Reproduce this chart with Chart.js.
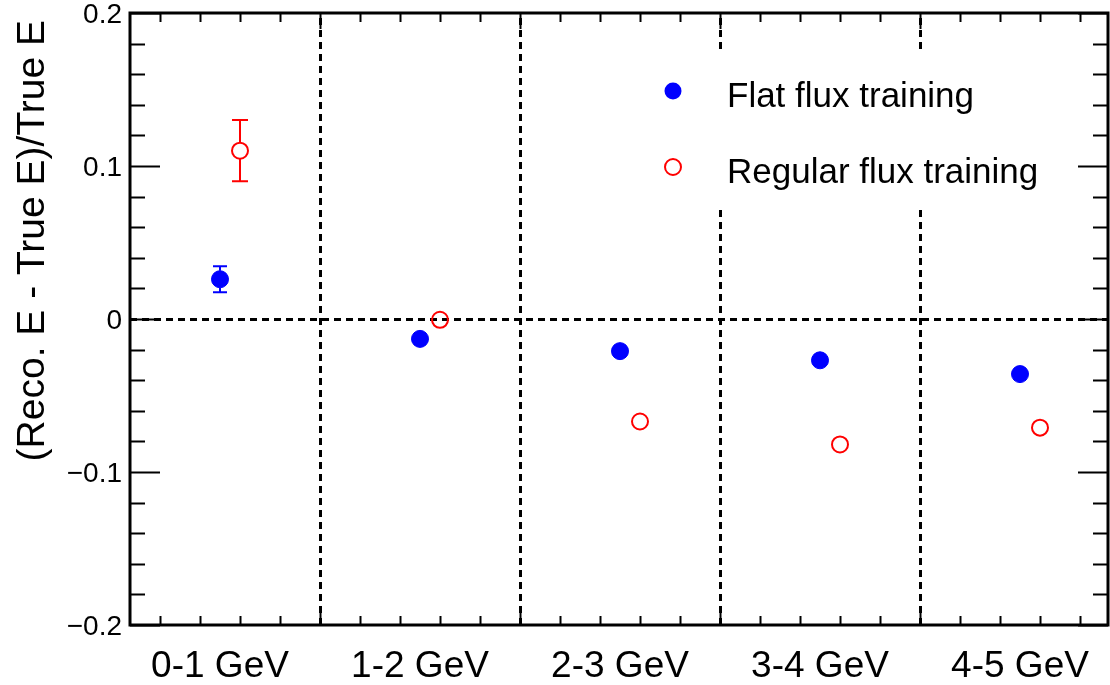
<!DOCTYPE html>
<html>
<head>
<meta charset="utf-8">
<script src="https://cdn.jsdelivr.net/npm/chart.js@4.4.1/dist/chart.umd.min.js"></script>
<style>
  html, body { margin: 0; padding: 0; background: #fff; }
  canvas { display: block; }
</style>
</head>
<body>
<canvas id="bias-chart" width="1110" height="685"></canvas>
<script>
// energy bins and their labels
const categories = ['0-1 GeV', '1-2 GeV', '2-3 GeV', '3-4 GeV', '4-5 GeV'];
const binCenters = [0.5, 1.5, 2.5, 3.5, 4.5];
const binEdges = [1, 2, 3, 4];

// (Reco. E - True E)/True E, per bin
const flatValues = [0.026, -0.013, -0.021, -0.027, -0.036];
const flatErrors = [0.0085, 0.002, 0.002, 0.002, 0.002];
const regularValues = [0.110, -0.0005, -0.067, -0.082, -0.071];
const regularErrors = [0.020, 0.003, 0.003, 0.003, 0.003];
const regularShift = 0.1;

const yTickValues = [-0.2, -0.1, 0, 0.1, 0.2];
const yTickLabels = ['\u22120.2', '\u22120.1', '0', '0.1', '0.2'];

const legendLabels = ['Flat flux training', 'Regular flux training'];
const yTitle = '(Reco. E - True E)/True E';

const FONT = '"Liberation Sans", Arial, Helvetica, sans-serif';
const BLUE = '#0000ff';
const RED = '#ff0000';

const flatPoints = binCenters.map((x, i) => ({ x: x, y: flatValues[i], err: flatErrors[i] }));
const regularPoints = binCenters.map((x, i) => ({ x: x + regularShift, y: regularValues[i], err: regularErrors[i] }));

// ROOT-like frame, dashed guide lines, error bars, legend
const rootStyle = {
    id: 'rootStyle',
    beforeDatasetsDraw(chart) {
        const { ctx, chartArea: a, scales: { x, y } } = chart;
        ctx.save();
        ctx.strokeStyle = '#000';
        ctx.lineWidth = 3;
        ctx.setLineDash([7, 5]);
        binEdges.forEach(e => {
            const px = Math.round(x.getPixelForValue(e)) + 0.5;
            ctx.beginPath();
            ctx.moveTo(px, a.bottom);
            ctx.lineTo(px, a.top);
            ctx.stroke();
        });
        const py0 = Math.round(y.getPixelForValue(0)) + 0.5;
        ctx.beginPath();
        ctx.moveTo(a.left, py0);
        ctx.lineTo(a.right, py0);
        ctx.stroke();
        ctx.restore();
    },
    afterDatasetsDraw(chart) {
        const { ctx, chartArea: a, scales: { x, y } } = chart;
        ctx.save();

        // error bars, drawn only outside the marker like ROOT does
        chart.data.datasets.forEach(ds => {
            ctx.strokeStyle = ds.borderColor;
            ctx.lineWidth = 2;
            const r = ds.pointRadius;
            const cap = ds.capWidth;
            ds.data.forEach(p => {
                const px = x.getPixelForValue(p.x);
                const py = y.getPixelForValue(p.y);
                const top = y.getPixelForValue(p.y + p.err);
                const bot = y.getPixelForValue(p.y - p.err);
                if (py - top <= r + 1) return;
                ctx.beginPath();
                ctx.moveTo(px, py - r); ctx.lineTo(px, top);
                ctx.moveTo(px, py + r); ctx.lineTo(px, bot);
                ctx.moveTo(px - cap, top); ctx.lineTo(px + cap, top);
                ctx.moveTo(px - cap, bot); ctx.lineTo(px + cap, bot);
                ctx.stroke();
            });
        });

        // legend (white box hides the dashed lines behind it)
        ctx.fillStyle = '#fff';
        ctx.fillRect(640, 52, 430, 158);
        chart.data.datasets.forEach((ds, i) => {
            const mx = 673, my = 91 + i * 76;
            ctx.beginPath();
            ctx.arc(mx, my, ds.pointRadius, 0, Math.PI * 2);
            if (ds.filled) {
                ctx.fillStyle = ds.backgroundColor;
                ctx.fill();
            } else {
                ctx.strokeStyle = ds.borderColor;
                ctx.lineWidth = 2;
                ctx.stroke();
            }
            ctx.fillStyle = '#000';
            ctx.font = '35px ' + FONT;
            ctx.textAlign = 'left';
            ctx.textBaseline = 'alphabetic';
            ctx.fillText(legendLabels[i], 727, my + 16);
        });

        // ticks
        ctx.strokeStyle = '#000';
        ctx.lineWidth = 2;
        ctx.setLineDash([]);
        ctx.beginPath();
        for (let k = -10; k <= 10; k++) {
            const v = k * 0.02;
            const py = Math.round(y.getPixelForValue(v)) + 0.5;
            const len = (k % 5 === 0) ? 30 : 15;
            ctx.moveTo(a.left, py); ctx.lineTo(a.left + len, py);
            ctx.moveTo(a.right, py); ctx.lineTo(a.right - len, py);
        }
        for (let k = 1; k * 0.2 < x.max; k++) {
            const v = k * 0.2;
            if (v < x.min) continue;
            const px = Math.round(x.getPixelForValue(v)) + 0.5;
            const len = (k % 5 === 0) ? 16 : 9;
            ctx.moveTo(px, a.bottom); ctx.lineTo(px, a.bottom - len);
            ctx.moveTo(px, a.top); ctx.lineTo(px, a.top + len);
        }
        ctx.stroke();

        // frame
        ctx.lineWidth = 3;
        ctx.strokeRect(a.left, a.top, a.right - a.left, a.bottom - a.top);

        // y tick labels
        ctx.fillStyle = '#000';
        ctx.font = '28px ' + FONT;
        ctx.textAlign = 'right';
        ctx.textBaseline = 'middle';
        yTickValues.forEach((v, i) => {
            ctx.fillText(yTickLabels[i], a.left - 8, y.getPixelForValue(v) + 2);
        });

        // category labels
        ctx.font = '37px ' + FONT;
        ctx.textAlign = 'center';
        ctx.textBaseline = 'alphabetic';
        categories.forEach((c, i) => {
            ctx.fillText(c, x.getPixelForValue(binCenters[i]), a.bottom + 52);
        });

        // y title, aligned to the top of the axis
        ctx.translate(44, a.top + 7);
        ctx.rotate(-Math.PI / 2);
        ctx.font = '39px ' + FONT;
        ctx.textAlign = 'right';
        ctx.fillText(yTitle, 0, 0);
        ctx.restore();
    }
};

const ctx = document.getElementById('bias-chart').getContext('2d');

const config = {
    type: 'scatter',
    data: {
        datasets: [{
            label: legendLabels[0],
            data: flatPoints,
            pointStyle: 'circle',
            pointRadius: 8.5,
            pointHoverRadius: 8.5,
            borderWidth: 1,
            borderColor: BLUE,
            backgroundColor: BLUE,
            filled: true,
            capWidth: 7
        }, {
            label: legendLabels[1],
            data: regularPoints,
            pointStyle: 'circle',
            pointRadius: 8,
            pointHoverRadius: 8,
            borderWidth: 2,
            borderColor: RED,
            backgroundColor: 'rgba(0,0,0,0)',
            filled: false,
            capWidth: 8
        }]
    },
    options: {
        responsive: false,
        animation: false,
        devicePixelRatio: 1,
        layout: {
            autoPadding: false,
            padding: { left: 130, right: 2, top: 13, bottom: 60 }
        },
        plugins: {
            legend: { display: false },
            tooltip: { enabled: false }
        },
        scales: {
            x: { type: 'linear', min: 0.05, max: 4.94, display: false },
            y: { type: 'linear', min: -0.2, max: 0.2, display: false }
        }
    },
    plugins: [rootStyle]
};

new Chart(ctx, config);
</script>
</body>
</html>
